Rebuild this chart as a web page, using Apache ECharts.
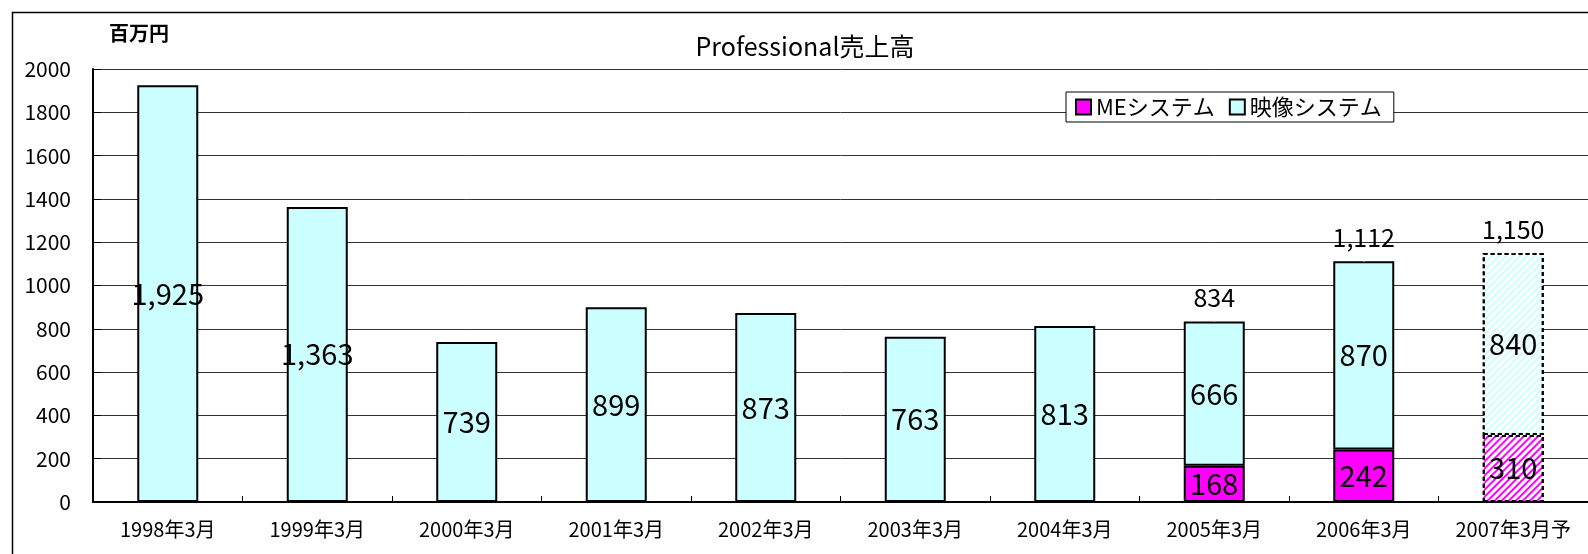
<!DOCTYPE html>
<html>
<head>
<meta charset="utf-8">
<script src="https://cdn.jsdelivr.net/npm/echarts@6/dist/echarts.min.js"></script>
<style>
  html, body { margin: 0; padding: 0; background: #fff; }
  #chart { width: 1588px; height: 554px; }
</style>
</head>
<body>
<div id="chart"></div>
<script>
// categories and values (百万円)
var categories = ['1998年3月', '1999年3月', '2000年3月', '2001年3月', '2002年3月',
  '2003年3月', '2004年3月', '2005年3月', '2006年3月', '2007年3月予'];
var meSystem = [null, null, null, null, null, null, null, 168, 242, 310];
var eizoSystem = [1925, 1363, 739, 899, 873, 763, 813, 666, 870, 840];
var totals = [null, null, null, null, null, null, null, 834, 1112, 1150];
var yTicks = [0, 200, 400, 600, 800, 1000, 1200, 1400, 1600, 1800, 2000];
var forecastIndex = 9; // 予想 bar is hatched

var FONT = '"Noto Sans CJK JP", sans-serif';

function fmt(v) {
  return v == null ? '' : String(v).replace(/\B(?=(\d{3})+(?!\d))/g, ',');
}

// hatched style for the forecast bar
function withForecast(values, color) {
  return values.map(function (v, i) {
    if (i !== forecastIndex || v == null) return v;
    return {
      value: v,
      itemStyle: {
        color: '#fff',
        borderType: [4, 3],
        borderColor: '#000',
        borderWidth: 2,
        decal: {
          symbol: 'rect',
          symbolSize: 1,
          dashArrayX: [1, 0],
          dashArrayY: [2, 3],
          rotation: -Math.PI / 4,
          color: color
        }
      }
    };
  });
}

var labelStyle = {
  show: true,
  position: 'inside',
  color: '#000',
  fontSize: 29,
  fontFamily: FONT,
  formatter: function (p) { return fmt(p.value); }
};

var option = {
  backgroundColor: '#fff',
  animation: false,
  textStyle: { fontFamily: FONT },
  graphic: [{
    type: 'rect',
    left: 10, top: 10,
    shape: { width: 1600, height: 560 },
    style: { fill: 'none', stroke: '#000', lineWidth: 1.5 },
    z: -1
  }, {
    type: 'text',
    x: 805, y: 46,
    style: {
      text: 'Professional売上高', fill: '#000', font: '25px ' + FONT,
      align: 'center', verticalAlign: 'middle'
    }
  }, {
    type: 'text',
    x: 139, y: 33,
    style: {
      text: '百万円', fill: '#000', font: 'bold 20px ' + FONT,
      align: 'center', verticalAlign: 'middle'
    }
  }],
  legend: {
    data: ['MEシステム', '映像システム'],
    left: 1066, top: 92,
    orient: 'horizontal',
    icon: 'rect',
    itemWidth: 15, itemHeight: 15,
    itemGap: 14,
    padding: [4, 12, 4, 9],
    backgroundColor: '#fff',
    borderColor: '#000',
    borderWidth: 1,
    textStyle: { fontSize: 22, color: '#000', fontFamily: FONT }
  },
  grid: { left: 93, right: -11, top: 69, bottom: 52 },
  xAxis: {
    type: 'category',
    data: categories,
    axisLine: { lineStyle: { color: '#000', width: 2 } },
    axisTick: { show: true, inside: true, length: 6, lineStyle: { color: '#000' } },
    axisLabel: { color: '#000', fontSize: 20, margin: 17, interval: 0, fontFamily: FONT }
  },
  yAxis: {
    type: 'value',
    min: yTicks[0], max: yTicks[yTicks.length - 1], interval: 200,
    axisLine: { show: true, lineStyle: { color: '#000', width: 2 } },
    axisTick: { show: true, inside: true, length: 8, lineStyle: { color: '#000' } },
    axisLabel: {
      color: '#000', fontSize: 21, margin: 22, fontFamily: FONT,
      formatter: function (v) { return String(v); }
    },
    splitLine: { lineStyle: { color: '#333', width: 1 } }
  },
  series: [{
    name: 'MEシステム',
    type: 'bar',
    stack: 'total',
    barWidth: 61,
    data: withForecast(meSystem, '#ff00ff'),
    itemStyle: { color: '#ff00ff', borderColor: '#000', borderWidth: 2 },
    label: labelStyle
  }, {
    name: '映像システム',
    type: 'bar',
    stack: 'total',
    barWidth: 61,
    data: withForecast(eizoSystem, '#ccffff'),
    itemStyle: { color: '#ccffff', borderColor: '#000', borderWidth: 2 },
    label: labelStyle
  }, {
    name: '合計',
    type: 'scatter',
    data: totals,
    symbolSize: 1,
    itemStyle: { color: '#fff', opacity: 1 },
    label: {
      show: true,
      position: 'top',
      distance: 11,
      color: '#000',
      textBorderWidth: 0,
      fontSize: 25,
      fontFamily: FONT,
      formatter: function (p) { return fmt(p.value); }
    },
    z: 5
  }]
};

var chart = echarts.init(document.getElementById('chart'));
chart.setOption(option);
</script>
</body>
</html>
